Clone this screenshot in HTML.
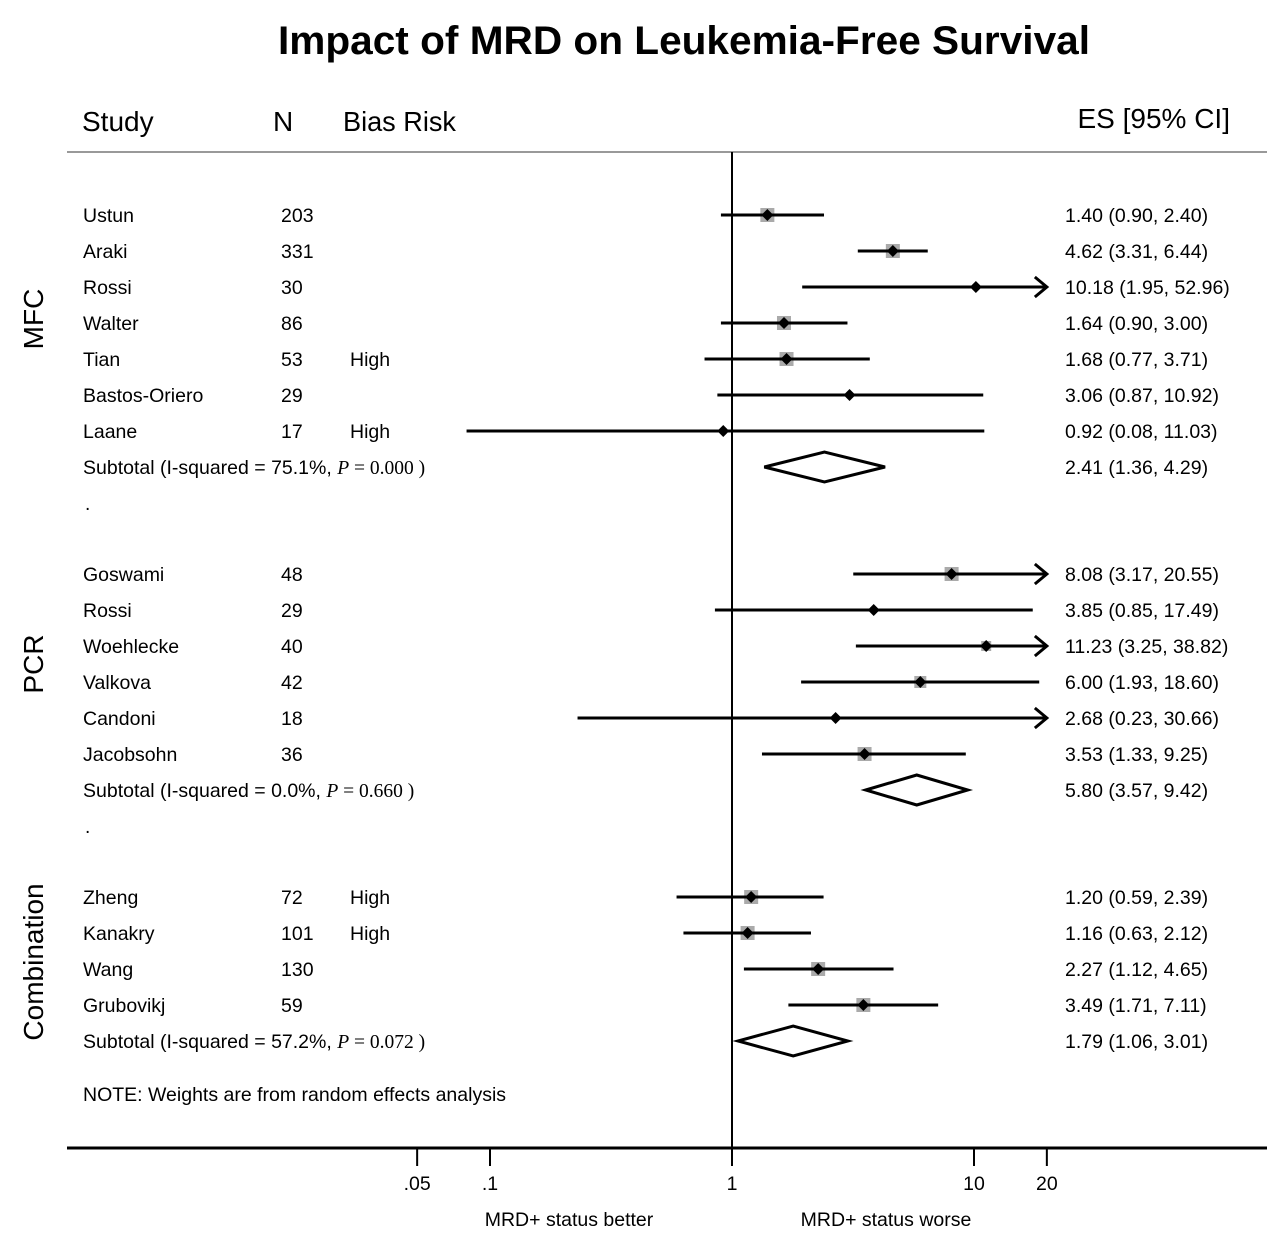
<!DOCTYPE html>
<html><head><meta charset="utf-8"><style>
body{margin:0;background:#fff;}
svg{display:block;font-family:"Liberation Sans",sans-serif;}
</style></head><body>
<svg id="chart" width="1280" height="1237" viewBox="0 0 1280 1237">
<text x="278" y="54" textLength="812" lengthAdjust="spacingAndGlyphs" font-size="40" font-weight="bold">Impact of MRD on Leukemia-Free Survival</text>
<g font-size="28">
<text x="82" y="131">Study</text>
<text x="273" y="131">N</text>
<text x="343" y="131" textLength="113" lengthAdjust="spacingAndGlyphs">Bias Risk</text>
<text x="1230" y="128" text-anchor="end">ES [95% CI]</text>
</g>
<line x1="67" y1="152" x2="1267" y2="152" stroke="#999" stroke-width="2"/>
<line x1="67" y1="1148" x2="1267" y2="1148" stroke="#000" stroke-width="3"/>
<g font-size="28">
<text transform="translate(43,319) rotate(-90)" text-anchor="middle">MFC</text>
<text transform="translate(43,664) rotate(-90)" text-anchor="middle">PCR</text>
<text transform="translate(43,962) rotate(-90)" text-anchor="middle">Combination</text>
</g>
<g id="rows"></g>
<g id="axis"></g>
<text x="83" y="1101" font-size="19.5">NOTE: Weights are from random effects analysis</text>
<text x="85" y="510" font-size="19">.</text>
<text x="85" y="833" font-size="19">.</text>
<text x="569" y="1226" text-anchor="middle" font-size="19.5">MRD+ status better</text>
<text x="886" y="1226" text-anchor="middle" font-size="19.5">MRD+ status worse</text>
</svg>
<script>
const studies=["Ustun","Araki","Rossi","Walter","Tian","Bastos-Oriero","Laane","Goswami","Rossi","Woehlecke","Valkova","Candoni","Jacobsohn","Zheng","Kanakry","Wang","Grubovikj"];
const ns=["203","331","30","86","53","29","17","48","29","40","42","18","36","72","101","130","59"];
const bias=["","","","","High","","High","","","","","","","High","High","",""];
const es=[1.40,4.62,10.18,1.64,1.68,3.06,0.92,8.08,3.85,11.23,6.00,2.68,3.53,1.20,1.16,2.27,3.49];
const lo=[0.90,3.31,1.95,0.90,0.77,0.87,0.08,3.17,0.85,3.25,1.93,0.23,1.33,0.59,0.63,1.12,1.71];
const hi=[2.40,6.44,52.96,3.00,3.71,10.92,11.03,20.55,17.49,38.82,18.60,30.66,9.25,2.39,2.12,4.65,7.11];
const weights=[14,14,4,14,14,6,4,14,6,10,12,4,14,14,14,14,14];
const rowY=[215,251,287,323,359,395,431,574,610,646,682,718,754,897,933,969,1005];
const subLabels=["Subtotal  (I-squared = 75.1%, ","Subtotal  (I-squared = 0.0%,  ","Subtotal  (I-squared = 57.2%, "];
const subP=["0.000","0.660","0.072"];
const subEs=[2.41,5.80,1.79];
const subLo=[1.36,3.57,1.06];
const subHi=[4.29,9.42,3.01];
const subY=[467,790,1041];
const ticks=[0.05,0.1,1,10,20];
const tickLabels=[".05",".1","1","10","20"];
const X0=732,DEC=242,XMAX=20,XMIN=0.05;
const xs=v=>X0+Math.log10(v)*DEC;
const NS="http://www.w3.org/2000/svg";
const FS=19.5;
const rows=document.getElementById('rows'),axis=document.getElementById('axis');
function mk(tag,a,p){const e=document.createElementNS(NS,tag);for(const k in a)e.setAttribute(k,a[k]);(p||rows).appendChild(e);return e;}
const fmt=v=>v.toFixed(2);
const vl=mk('line',{x1:X0,y1:152,x2:X0,y2:1148,stroke:'#000','stroke-width':2});


studies.forEach((s,i)=>{
 const y=rowY[i];
 const t1=mk('text',{x:83,y:y+7,'font-size':FS});t1.textContent=s;
 
 
 const t2=mk('text',{x:281,y:y+7,'font-size':FS});t2.textContent=ns[i];
 
 
 if(bias[i]){const t3=mk('text',{x:350,y:y+7,'font-size':FS});t3.textContent=bias[i];
 
 }
 const t4=mk('text',{x:1065,y:y+7,'font-size':FS});t4.textContent=fmt(es[i])+" ("+fmt(lo[i])+", "+fmt(hi[i])+")";
 
 
 const w=weights[i];
 const sq=mk('rect',{x:xs(es[i])-w/2,y:y-w/2,width:w,height:w,fill:'#aaa'});
 
 
 const xa=xs(Math.max(lo[i],XMIN*0.5)),xb=xs(Math.min(hi[i],XMAX));
 const ln=mk('line',{x1:xa,y1:y,x2:xb,y2:y,stroke:'#000','stroke-width':3});
 
 
 if(hi[i]>XMAX){const ar=mk('polyline',{points:`${xb-12},${y-10} ${xb},${y} ${xb-12},${y+10}`,fill:'none',stroke:'#000','stroke-width':3});
 
 }
 const cx=xs(es[i]);
 const d=mk('polygon',{points:`${cx},${y-6} ${cx+6},${y} ${cx},${y+6} ${cx-6},${y}`,fill:'#000'});
 
 
});
subY.forEach((y,i)=>{
 const t=mk('text',{x:83,y:y+7,'font-size':FS,'xml:space':'preserve'});t.textContent=subLabels[i];
 const it=mk('tspan',{'font-style':'italic','font-family':'Liberation Serif'},t);it.textContent="P";
 const ps=mk('tspan',{'font-family':'Liberation Serif'},t);ps.textContent=" = "+subP[i]+" )";
 
 
 const t4=mk('text',{x:1065,y:y+7,'font-size':FS});t4.textContent=fmt(subEs[i])+" ("+fmt(subLo[i])+", "+fmt(subHi[i])+")";
 
 
 const a=xs(subLo[i]),b=xs(subHi[i]),c=xs(subEs[i]);
 const dm=mk('polygon',{points:`${a},${y} ${c},${y-15} ${b},${y} ${c},${y+15}`,fill:'none',stroke:'#000','stroke-width':3});
 
 
});
ticks.forEach((v,i)=>{
 const x=xs(v);
 const tk=mk('line',{x1:x,y1:1148,x2:x,y2:1166,stroke:'#000','stroke-width':2},axis);
 
 
 const tl=mk('text',{x:x,y:1190,'font-size':FS,'text-anchor':'middle'},axis);tl.textContent=tickLabels[i];
 
 
});
</script>
</body></html>
